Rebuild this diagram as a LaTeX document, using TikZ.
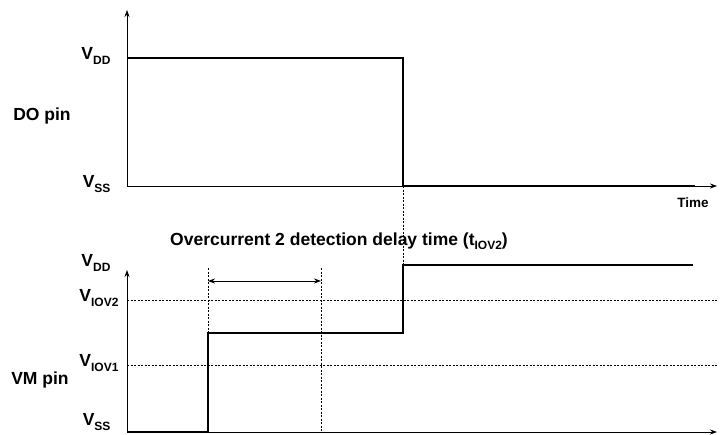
\documentclass[tikz,border=0pt]{standalone}
\usepackage{fontspec}
\setmainfont{Liberation Sans}
\usetikzlibrary{arrows.meta}
\newcommand{\volt}[1]{V\raisebox{-0.45ex}{\fontsize{12}{13}\selectfont #1}}

\begin{document}
\begin{tikzpicture}[x=1pt,y=-1pt,>={Stealth[length=7pt,width=5pt]},
    lvl/.style={font=\fontsize{17.5}{20}\selectfont\bfseries,anchor=east},
    lbl/.style={font=\fontsize{17.5}{20}\selectfont\bfseries},
    wave/.style={line width=2.2pt},
    grid/.style={line width=0.8pt,dash pattern=on 2pt off 1.5pt}]
  \useasboundingbox (0,0) rectangle (723,434);
  % DO pin
  \draw[->,line width=0.8pt] (127,186) -- (127,10);
  \draw[->,line width=0.8pt] (127,186) -- (717,186);
  \draw[wave] (127,58) -- (403,58) -- (403,186) -- (695,186);
  \node[lvl] (dovdd) at (114,56) {\volt{DD}};
  \node[lvl] (dovss) at (114,184) {\volt{SS}};
  \node[lbl] (dopin) at (42,116) {DO pin};
  \node[font=\fontsize{13.5}{15}\selectfont\bfseries] (time) at (693,203) {Time};
  % VM pin
  \draw[->,line width=0.8pt] (127,432) -- (127,270);
  \draw[->,line width=0.8pt] (127,432) -- (717,432);
  \draw[grid] (127,300) -- (717,300);
  \draw[grid] (127,365) -- (717,365);
  \draw[grid] (208,268) -- (208,432);
  \draw[grid] (321,268) -- (321,432);
  \draw[grid] (403,186) -- (403,265);
  \draw[<->,line width=0.8pt] (208,281) -- (321,281);
  \draw[wave] (127,432) -- (208,432) -- (208,333) -- (403,333) -- (403,265) -- (693,265);
  \node[lvl] (vmvdd) at (114,263) {\volt{DD}};
  \node[lvl] (vmiov2) at (122,298) {\volt{IOV2}};
  \node[lvl] (vmiov1) at (122,363) {\volt{IOV1}};
  \node[lvl] (vmvss) at (114,422) {\volt{SS}};
  \node[lbl] (vmpin) at (40,380) {VM pin};
  \node[lbl] (delay) at (339,241) {Overcurrent 2 detection delay time (t\raisebox{-0.45ex}{\fontsize{12}{13}\selectfont IOV2})};
\end{tikzpicture}
\end{document}
